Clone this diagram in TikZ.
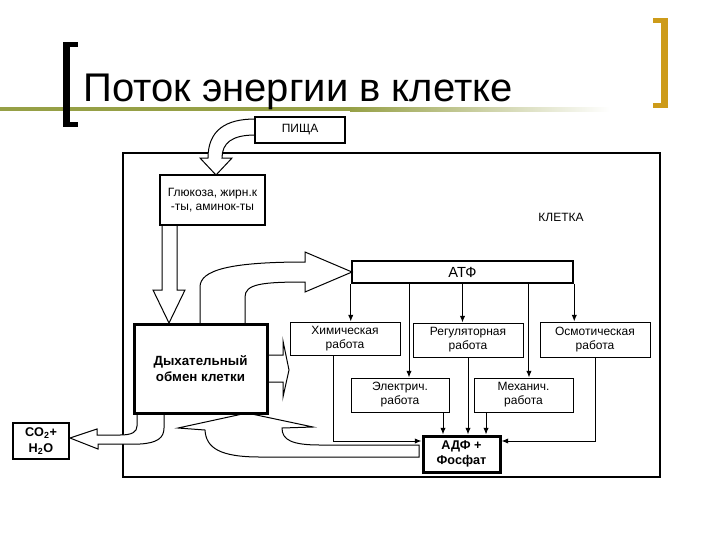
\documentclass[tikz,border=0pt]{standalone}
\usepackage{fontspec}
\setmainfont{Liberation Sans}
\usetikzlibrary{arrows.meta}
\definecolor{olivebar}{RGB}{150,160,70}
\definecolor{goldbar}{RGB}{205,155,25}

\begin{document}
\begin{tikzpicture}[x=0.75pt,y=-0.75pt,
  box/.style={draw,line width=0.75pt,align=center,inner sep=0pt,
    font=\fontsize{9}{10.5}\selectfont},
  bigbox/.style={draw,line width=2.25pt,align=center,inner sep=0pt,
    font=\bfseries\fontsize{9.5}{11.5}\selectfont},
  arr/.style={-{Latex[length=5pt,width=4pt]},line width=0.75pt},
  hollow/.style={draw,fill=white,line width=0.75pt}]

\useasboundingbox (0,0) rectangle (720,540);

% title and brackets
\fill[olivebar] (0,107) rectangle (350,111);
\shade[left color=olivebar,right color=white] (350,107) rectangle (610,111);
\fill (63,42) rectangle (70,127);
\fill (63,42) rectangle (78,47);
\fill (63,122) rectangle (78,127);
\fill[goldbar] (661,18) rectangle (668,108);
\fill[goldbar] (653,18) rectangle (668,23);
\fill[goldbar] (653,103) rectangle (668,108);
\node[anchor=base west,inner sep=0pt,font=\fontsize{30}{32}\selectfont] (title) at (83,101) {Поток энергии в клетке};

% cell
\node[draw,line width=1.5pt,minimum width=402.75pt,minimum height=243pt] (cell) at (391.5,315) {};
\node[font=\fontsize{9}{10}\selectfont] (celltxt) at (561,217) {КЛЕТКА};

% hollow arrows
\draw[hollow] (255,119) .. controls (226,119) and (208,130) .. (208,158) -- (200,158)
  -- (216,175) -- (232,158) -- (222,158) .. controls (222,143) and (232,135) .. (255,135);
\draw[hollow] (162,225) -- (162,290) -- (153,290) -- (169,323) -- (185,290) -- (177,290) -- (177,225);
\draw[hollow] (200,324) -- (200,287) .. controls (200,270) and (230,262) .. (305,262) -- (305,252)
  -- (352,272) -- (305,292) -- (305,282) .. controls (262,282) and (245,284) .. (245,297) -- (245,324);
\draw[hollow] (268,355) -- (283,355) -- (283,341) -- (289,370) -- (283,397) -- (283,382) -- (268,382);
\draw[hollow] (137,413) -- (137,426) .. controls (137,432) and (132,435) .. (120,435) -- (97,435)
  -- (97,429) -- (70,438) -- (98,449) -- (98,444) -- (140,444) .. controls (157,443) and (164,438) .. (164,428) -- (164,413);
\draw[hollow] (419,445) -- (320,445) .. controls (292,445) and (282,440) .. (282,428) -- (313,427)
  -- (247,413) -- (178,428) -- (205,430) .. controls (206,448) and (220,457) .. (260,457) -- (419,457) -- cycle;

% boxes
\node[draw,line width=2pt,fill=white,minimum width=67.5pt,minimum height=19.5pt,
  font=\fontsize{9}{10}\selectfont] (food) at (300,130) {ПИЩА};
\node[box,line width=1.5pt,minimum width=78.75pt,minimum height=37.5pt] (gluc) at (212.5,200)
  {Глюкоза, жирн.к\\-ты, аминок-ты};
\node[bigbox,font=\bfseries\fontsize{10}{12.5}\selectfont,minimum width=99.75pt,minimum height=66.75pt] (resp) at (200.5,368.5)
  {Дыхательный\\обмен клетки};
\node[draw,line width=1.9pt,minimum width=165.75pt,minimum height=16.5pt,inner sep=0pt,
  font=\fontsize{11}{13}\selectfont] (atp) at (462.5,272) {АТФ};
\node[box,minimum width=82.5pt,minimum height=24.75pt] (chem) at (345,338.5) {Химическая\\работа};
\node[box,minimum width=82.5pt,minimum height=25.5pt] (reg) at (468,340) {Регуляторная\\работа};
\node[box,minimum width=82.5pt,minimum height=26.25pt] (osm) at (595,339.5) {Осмотическая\\работа};
\node[box,minimum width=73.5pt,minimum height=25.5pt] (elec) at (400,395) {Электрич.\\работа};
\node[box,minimum width=74.25pt,minimum height=25.5pt] (mech) at (523.5,395) {Механич.\\работа};
\node[bigbox,minimum width=57.75pt,minimum height=27pt] (adp) at (461.5,454) {АДФ +\\Фосфат};
\node[bigbox,line width=1.9pt,minimum width=42pt,minimum height=27pt] (co2) at (41,441)
  {CO\textsubscript{2}+\\H\textsubscript{2}O};

% ATP to the works
\coordinate (e1) at ([xshift=6.75pt]elec.north);
\coordinate (m1) at ([xshift=4.1pt]mech.north);
\draw[arr] (atp.south west) -- (atp.south west |- chem.north);
\draw[arr] (atp.south -| e1) -- (e1);
\draw[arr] (atp.south) -- (atp.south |- reg.north);
\draw[arr] (atp.south -| m1) -- (m1);
\draw[arr] (atp.south east) -- (atp.south east |- osm.north);

% the works to ADP
\draw[arr] ([xshift=-9pt]chem.south) |- ([yshift=9.75pt]adp.west);
\draw[arr] ([xshift=32.25pt]elec.south) -- ([xshift=32.25pt]elec.south |- adp.north);
\draw[arr] (reg.south) -- (reg.south |- adp.north);
\draw[arr] ([xshift=-28.1pt]mech.south) -- ([xshift=-28.1pt]mech.south |- adp.north);
\draw[arr] (osm.south) |- ([yshift=9.75pt]adp.east);

\end{tikzpicture}
\end{document}
